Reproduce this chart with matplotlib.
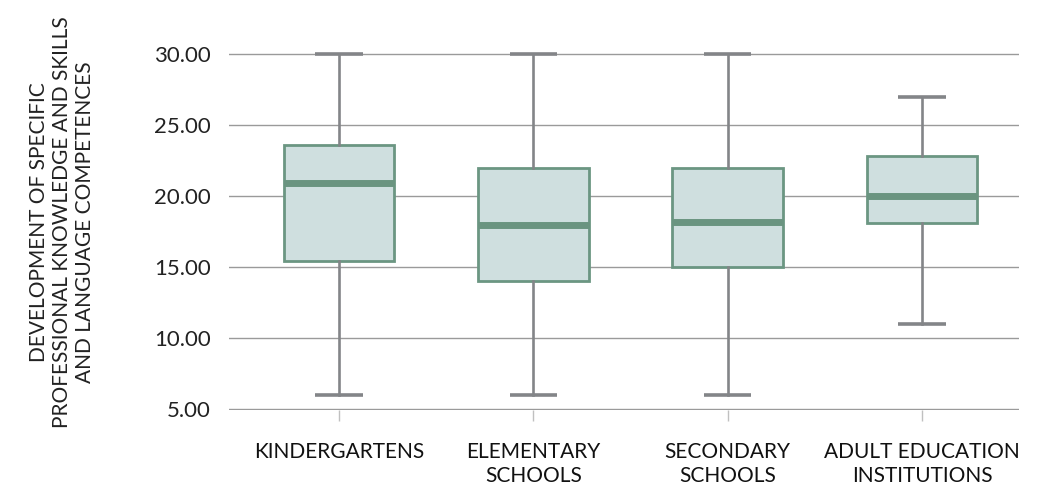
import matplotlib
matplotlib.use("Agg")
import matplotlib.pyplot as plt

categories = ["KINDERGARTENS", "ELEMENTARY\nSCHOOLS", "SECONDARY\nSCHOOLS", "ADULT EDUCATION\nINSTITUTIONS"]
whislo = [6.0, 6.0, 6.0, 11.0]
q1 = [15.4, 14.0, 15.0, 18.1]
med = [20.9, 18.0, 18.2, 20.0]
q3 = [23.6, 22.0, 22.0, 22.8]
whishi = [30.0, 30.0, 30.0, 27.0]
yticks = [5, 10, 15, 20, 25, 30]
ylabel = "DEVELOPMENT OF SPECIFIC\nPROFESSIONAL KNOWLEDGE AND SKILLS\nAND LANGUAGE COMPETENCES"

plt.rcParams['font.family'] = ['Lato', 'DejaVu Sans']

fig = plt.figure(figsize=(10.41, 4.90), dpi=100)
ax = fig.add_axes([0.22, 0.1624, 0.759, 0.7559])

stats = []
for i, c in enumerate(categories):
    stats.append(dict(label=c, whislo=whislo[i], q1=q1[i], med=med[i], q3=q3[i], whishi=whishi[i], fliers=[]))

edge = "#6b9682"
gray = "#838588"
ax.bxp(stats, positions=range(len(categories)), widths=0.57, patch_artist=True, showfliers=False,
       boxprops=dict(facecolor="#cfdfdf", edgecolor=edge, linewidth=2.0),
       medianprops=dict(color="#6a9480", linewidth=5.0, solid_capstyle="butt"),
       whiskerprops=dict(color=gray, linewidth=1.9),
       capprops=dict(color=gray, linewidth=2.6, solid_capstyle="butt"),
       capwidths=0.245, zorder=3)

ax.set_xlim(-0.566, 3.5)
ax.set_ylim(4.9, 31)
ax.set_yticks(yticks)
ax.set_yticklabels([f"{v:.2f}" for v in yticks])
ax.yaxis.grid(True, color="#9a9a9a", linewidth=1.0)
ax.set_axisbelow(True)
for s in ax.spines.values():
    s.set_visible(False)
ax.tick_params(axis='y', length=0, pad=13, labelsize=16, labelcolor="#222222")
ax.tick_params(axis='x', length=8, width=1, color="#c0c0c0", pad=15, labelsize=15, labelcolor="#111111")
ax.set_xticks(range(len(categories)))
ax.set_xticklabels(categories, linespacing=1.2)
fig.text(62 / 1041, 1 - 222 / 490, ylabel, rotation=90, ha="center", va="center",
         multialignment="center", fontsize=15, color="#222222", linespacing=1.2)

fig.savefig("out.png", dpi=100)
